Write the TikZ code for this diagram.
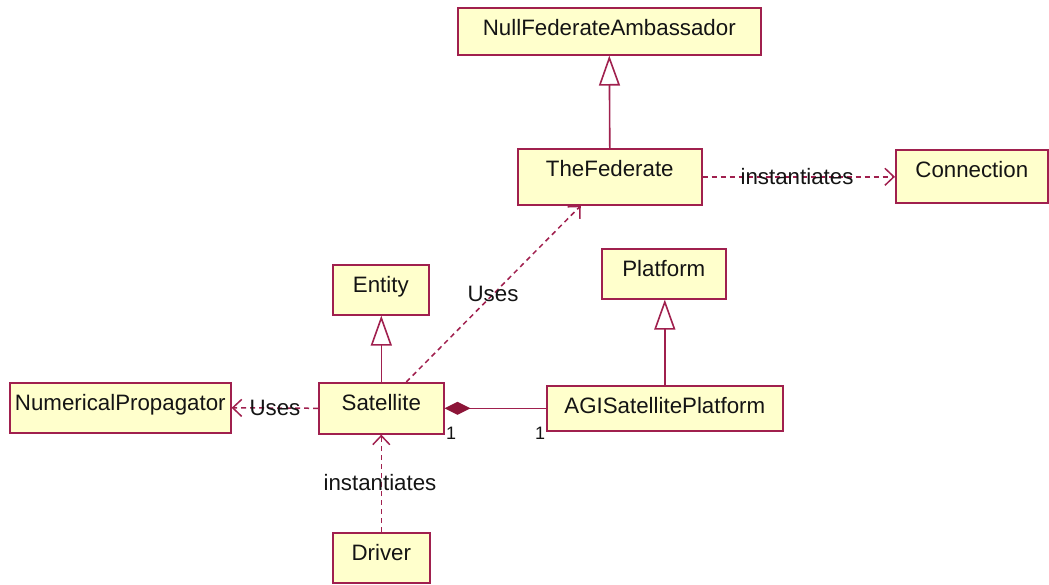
\documentclass[tikz,border=0pt]{standalone}
\usepackage{fontspec}
\setmainfont{Liberation Sans}
\usetikzlibrary{arrows.meta,calc}
\definecolor{umlline}{HTML}{A0204E}
\definecolor{umlfill}{HTML}{FFFFCC}
\definecolor{umltext}{HTML}{141414}
\definecolor{umldiam}{HTML}{8C1538}
\tikzset{
  cls/.style 2 args={draw=umlline, fill=umlfill, line width=1.6pt, inner sep=0pt,
    anchor=north west, minimum width=#1, text height=28pt, text depth={#2-28pt},
    text=umltext, font=\fontsize{22.3}{24}\selectfont},
  gen/.style={draw=umlline, line width=1.6pt, -{Triangle[open, length=30pt, width=21pt, fill=white]}},
  dep/.style={draw=umlline, line width=1.5pt, dash pattern=on 5pt off 4pt,
    -{Straight Barb[length=9pt, width=17pt, line width=1.5pt]}},
  comp/.style={draw=umlline, line width=1.6pt, {Diamond[length=26pt, width=13pt, fill=umldiam, color=umldiam]}-},
  lbl/.style={text=umltext, font=\fontsize{22.3}{24}\selectfont, inner sep=0pt},
  mult/.style={text=umltext, font=\fontsize{18}{20}\selectfont, inner sep=0pt}
}
\begin{document}
\begin{tikzpicture}[x=1pt, y=-1pt]
\useasboundingbox (0,0) rectangle (1049,584);
\node[cls={303pt}{47pt}] (NFA) at (457,7) {NullFederateAmbassador};
\node[cls={184pt}{56pt}] (TF) at (517,148) {TheFederate};
\node[cls={152pt}{53pt}] (Conn) at (895,149) {Connection};
\node[cls={96pt}{50pt}] (Ent) at (332,264) {Entity};
\node[cls={124pt}{50pt}] (Plat) at (601,248) {Platform};
\node[cls={221pt}{50pt}] (NP) at (9,382) {NumericalPropagator};
\node[cls={125pt}{51pt}] (Sat) at (318,382) {Satellite};
\node[cls={236pt}{45pt}] (AGI) at (546,385) {AGISatellitePlatform};
\node[cls={97pt}{50pt}] (Drv) at (332,532) {Driver};

\draw[gen] (TF.north) -- (NFA.south);
\draw[gen] (Sat.north) -- (Sat.north |- Ent.south);
\draw[gen] (AGI.north) -- (AGI.north |- Plat.south);

\draw[dep] (TF.east) -- (Conn.west |- TF.east);
\node[lbl] (L1) at (797,177) {instantiates};

\draw[dep] ($(Sat.north)+(25,0)$) -- ($(TF.south)+(-29,0)$);
\node[lbl] (L2) at (493,294) {Uses};

\draw[dep] (Sat.west) -- (NP.east);
\node[lbl] (L3) at (275,408) {Uses};

\draw[dep] (Drv.north) -- (Sat.south);
\node[lbl] (L4) at (380,483) {instantiates};

\draw[comp] (Sat.east) -- (AGI.west);
\node[mult] (M1) at (451,433) {1};
\node[mult] (M2) at (540,433) {1};
\end{tikzpicture}
\end{document}
